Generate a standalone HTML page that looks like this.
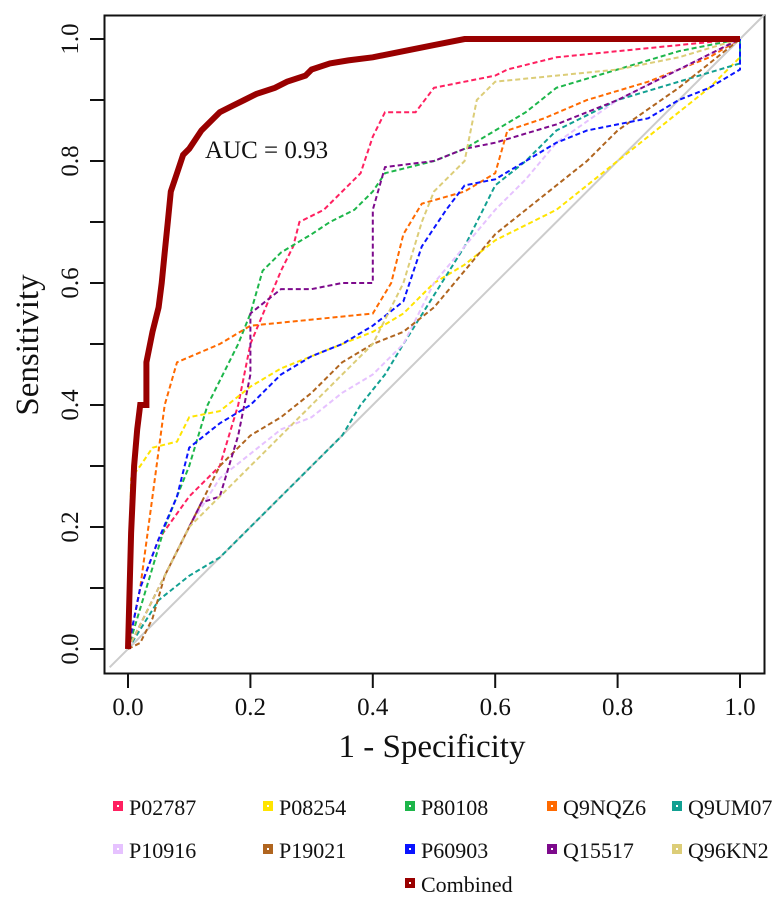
<!DOCTYPE html>
<html><head><meta charset="utf-8">
<style>
body{margin:0;background:#fff;}
svg text{font-family:"Liberation Serif",serif;fill:#111;}
</style></head>
<body>
<svg id="chart" width="778" height="906" xmlns="http://www.w3.org/2000/svg">
<rect x="104.5" y="15.5" width="660" height="658" fill="none" stroke="#111" stroke-width="2"/>
<g id="ticks"></g>
<g id="series"></g>
<text x="205" y="158" font-size="25">AUC = 0.93</text>
<text x="432" y="757" font-size="33" text-anchor="middle">1 - Specificity</text>
<text transform="translate(38,345) rotate(-90)" font-size="33" text-anchor="middle">Sensitivity</text>
<g id="legend"></g>
</svg>
<script>
const ticksX=[0,0.2,0.4,0.6,0.8,1.0];
const tickLabelsX=["0.0","0.2","0.4","0.6","0.8","1.0"];
const ticksY=[0,0.1,0.2,0.3,0.4,0.5,0.6,0.7,0.8,0.9,1.0];
const labelsY=[0,0.2,0.4,0.6,0.8,1.0];
const labelTextY=["0.0","0.2","0.4","0.6","0.8","1.0"];
const seriesNames=["P02787","P08254","P80108","Q9NQZ6","Q9UM07","P10916","P19021","P60903","Q15517","Q96KN2","Combined"];
const seriesColors=["#ff2060","#ffe400","#1db64a","#ff6a00","#12a092","#e6c2ff","#b0651f","#0a14ff","#7d0a8c","#dccd78","#990000"];
const fP02787=[0,0.02,0.05,0.1,0.15,0.18,0.2,0.25,0.27,0.28,0.32,0.35,0.38,0.4,0.42,0.47,0.5,0.55,0.6,0.62,0.7,0.8,1];
const tP02787=[0,0.1,0.18,0.25,0.3,0.4,0.5,0.62,0.66,0.7,0.72,0.75,0.78,0.84,0.88,0.88,0.92,0.93,0.94,0.95,0.97,0.98,1];
const fP08254=[0,0.005,0.02,0.04,0.08,0.1,0.15,0.2,0.25,0.3,0.35,0.4,0.45,0.5,0.55,0.6,0.7,0.8,0.9,0.95,1,1];
const tP08254=[0,0.28,0.3,0.33,0.34,0.38,0.39,0.43,0.46,0.48,0.5,0.52,0.55,0.6,0.63,0.67,0.72,0.8,0.88,0.92,0.97,1];
const fP80108=[0,0.03,0.06,0.1,0.13,0.18,0.2,0.22,0.25,0.3,0.33,0.37,0.4,0.42,0.5,0.55,0.6,0.65,0.7,0.8,0.9,1];
const tP80108=[0,0.1,0.2,0.3,0.4,0.5,0.55,0.62,0.65,0.68,0.7,0.72,0.75,0.78,0.8,0.82,0.85,0.88,0.92,0.95,0.98,1];
const fQ9NQZ6=[0,0.02,0.04,0.06,0.08,0.15,0.2,0.3,0.4,0.43,0.45,0.48,0.55,0.6,0.62,0.68,0.75,0.85,0.95,1];
const tQ9NQZ6=[0,0.1,0.25,0.4,0.47,0.5,0.53,0.54,0.55,0.6,0.68,0.73,0.75,0.78,0.85,0.87,0.9,0.93,0.97,1];
const fQ9UM07=[0,0.05,0.1,0.15,0.2,0.25,0.3,0.35,0.38,0.42,0.45,0.5,0.55,0.58,0.6,0.65,0.7,0.8,0.9,1,1];
const tQ9UM07=[0,0.08,0.12,0.15,0.2,0.25,0.3,0.35,0.4,0.45,0.5,0.58,0.66,0.72,0.76,0.8,0.85,0.9,0.93,0.96,1];
const fP10916=[0,0.05,0.1,0.15,0.2,0.25,0.3,0.35,0.4,0.45,0.5,0.55,0.6,0.65,0.7,0.8,0.9,1];
const tP10916=[0,0.1,0.2,0.28,0.32,0.36,0.38,0.42,0.45,0.5,0.6,0.66,0.72,0.77,0.83,0.9,0.95,1];
const fP19021=[0,0.02,0.04,0.06,0.1,0.15,0.2,0.25,0.3,0.35,0.4,0.45,0.5,0.55,0.6,0.65,0.7,0.75,0.8,0.9,1];
const tP19021=[0,0.01,0.05,0.12,0.2,0.3,0.35,0.38,0.42,0.47,0.5,0.52,0.56,0.62,0.68,0.72,0.76,0.8,0.85,0.92,1];
const fP60903=[0,0.02,0.05,0.08,0.1,0.15,0.2,0.25,0.3,0.35,0.4,0.45,0.48,0.52,0.55,0.6,0.65,0.7,0.75,0.8,0.85,0.9,0.95,1,1];
const tP60903=[0,0.1,0.18,0.25,0.33,0.37,0.4,0.45,0.48,0.5,0.53,0.57,0.66,0.72,0.76,0.77,0.8,0.83,0.85,0.86,0.87,0.9,0.92,0.95,1];
const fQ15517=[0,0.05,0.1,0.12,0.15,0.18,0.2,0.2,0.25,0.3,0.35,0.4,0.4,0.42,0.5,0.55,0.6,0.7,0.8,0.9,1];
const tQ15517=[0,0.1,0.2,0.24,0.25,0.35,0.45,0.55,0.59,0.59,0.6,0.6,0.72,0.79,0.8,0.82,0.83,0.86,0.9,0.95,1];
const fQ96KN2=[0,0.05,0.1,0.15,0.2,0.3,0.35,0.4,0.45,0.48,0.5,0.55,0.57,0.6,0.7,0.8,0.9,1];
const tQ96KN2=[0,0.1,0.2,0.25,0.3,0.4,0.45,0.5,0.6,0.7,0.75,0.8,0.9,0.93,0.94,0.95,0.97,1];
const fCombined=[0,0.005,0.01,0.015,0.02,0.03,0.03,0.04,0.05,0.055,0.06,0.065,0.07,0.08,0.09,0.1,0.12,0.14,0.15,0.17,0.19,0.21,0.24,0.26,0.29,0.3,0.33,0.36,0.4,0.45,0.5,0.55,1];
const tCombined=[0,0.19,0.3,0.36,0.4,0.4,0.47,0.52,0.56,0.6,0.65,0.7,0.75,0.78,0.81,0.82,0.85,0.87,0.88,0.89,0.9,0.91,0.92,0.93,0.94,0.95,0.96,0.965,0.97,0.98,0.99,1,1];
const seriesF=[fP02787,fP08254,fP80108,fQ9NQZ6,fQ9UM07,fP10916,fP19021,fP60903,fQ15517,fQ96KN2,fCombined];
const seriesT=[tP02787,tP08254,tP80108,tQ9NQZ6,tQ9UM07,tP10916,tP19021,tP60903,tQ15517,tQ96KN2,tCombined];

const NS="http://www.w3.org/2000/svg";
const X0=128,X1=740,Y0=649,Y1=39;
function sx(v){return X0+(X1-X0)*v;}
function sy(v){return Y0-(Y0-Y1)*v;}
function mk(tag,attrs,parent){const e=document.createElementNS(NS,tag);for(const k in attrs)e.setAttribute(k,attrs[k]);parent.appendChild(e);return e;}

const tg=document.getElementById('ticks');
ticksX.forEach((v,i)=>{
  const l=mk('line',{x1:sx(v),x2:sx(v),y1:674,y2:688,stroke:'#111','stroke-width':2},tg);
  
  
  const t=mk('text',{x:sx(v),y:715,'font-size':25,'text-anchor':'middle'},tg);
  t.textContent=tickLabelsX[i];
  
  
});
ticksY.forEach(v=>{
  const l=mk('line',{x1:90,x2:104,y1:sy(v),y2:sy(v),stroke:'#111','stroke-width':2},tg);
  
  
});
labelsY.forEach((v,i)=>{
  const t=mk('text',{transform:`translate(78,${sy(v)}) rotate(-90)`,'font-size':25,'text-anchor':'middle'},tg);
  t.textContent=labelTextY[i];
  
  
});

const sg=document.getElementById('series');
const diag=mk('line',{x1:sx(-0.03),y1:sy(-0.03),x2:sx(1.04),y2:sy(1.04),stroke:'#cccccc','stroke-width':2},sg);


seriesNames.forEach((n,i)=>{
  const f=seriesF[i],t=seriesT[i];
  let d='';
  f.forEach((v,j)=>{d+=(j?'L':'M')+sx(v).toFixed(1)+','+sy(t[j]).toFixed(1);});
  const comb=n==='Combined';
  const p=mk('path',{d:d,fill:'none',stroke:seriesColors[i],'stroke-width':comb?6:2,'stroke-dasharray':comb?'none':'5,3','stroke-linejoin':'miter'},sg);
  
  
});

const lg=document.getElementById('legend');
const lx=[113,263,405,547,672],ly=[807,850];
seriesNames.forEach((n,i)=>{
  let x,y;
  if(i<10){x=lx[i%5];y=ly[Math.floor(i/5)];}else{x=lx[2];y=884;}
  const g=mk('g',{},lg);
  
  
  mk('rect',{x:x,y:y-6,width:10,height:10,fill:seriesColors[i]},g);
  mk('rect',{x:x+4,y:y-2,width:2,height:2,fill:'#fff'},g);
  const t=mk('text',{x:x+16,y:y+8,'font-size':22},g);
  t.textContent=n;
});
</script>
</body></html>
